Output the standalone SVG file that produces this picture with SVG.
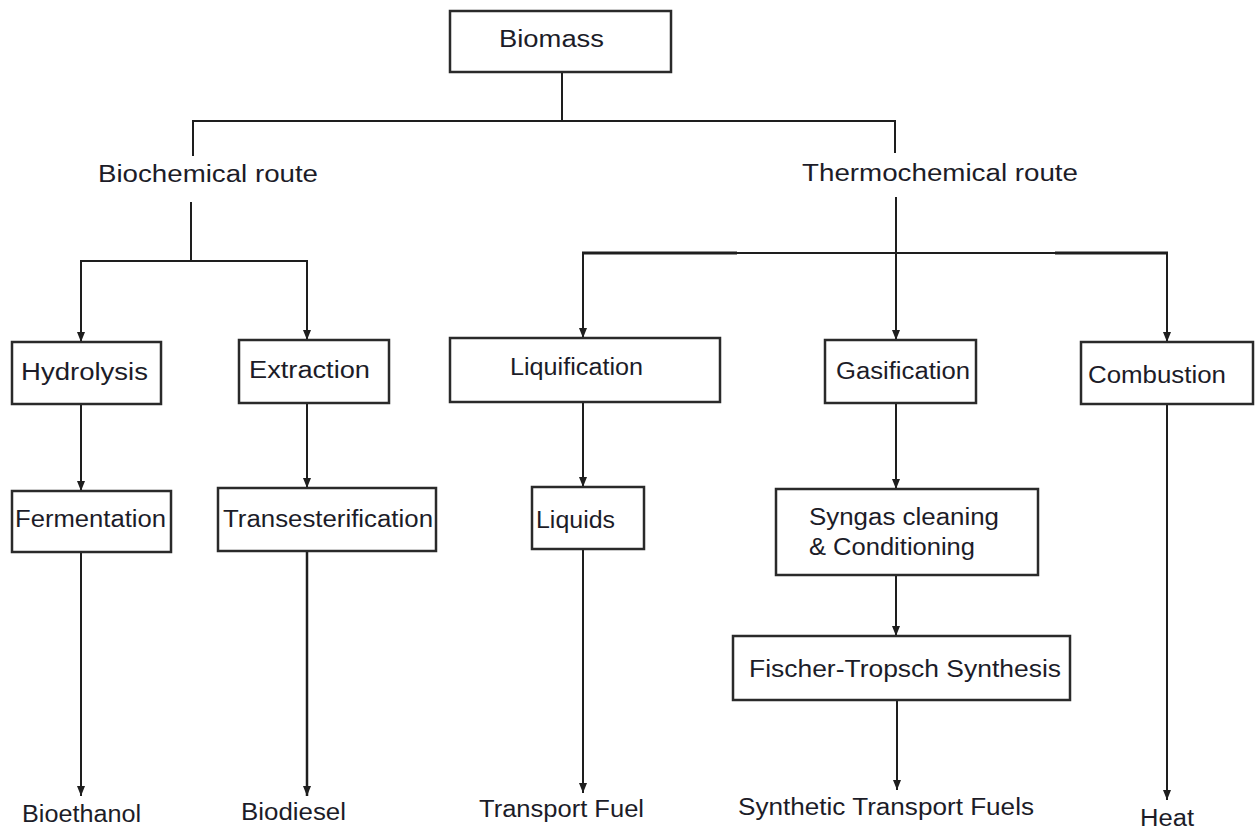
<svg xmlns="http://www.w3.org/2000/svg" width="1256" height="830" viewBox="0 0 1256 830">
  <style>
    .box { fill: #ffffff; stroke: #2a2a2a; stroke-width: 2.5; }
    .lbl { font-family: "Liberation Sans", Arial, sans-serif; font-size: 23px; fill: #1c1c28; }
    .ln { stroke: #1e1e1e; stroke-width: 2; fill: none; }
    .arr { stroke: #1e1e1e; stroke-width: 2; fill: none; marker-end: url(#tip); }
  </style>
  <defs>
    <marker id="tip" viewBox="0 0 10 8" refX="10" refY="4" markerWidth="10" markerHeight="8" markerUnits="userSpaceOnUse" orient="auto">
      <path d="M0,0 L10,4 L0,8 z" fill="#1e1e1e"/>
    </marker>
  </defs>
  <rect width="1256" height="830" fill="#ffffff"/>

  <g id="connectors">
    <!-- trunk from Biomass to the two routes -->
    <line class="ln" x1="562" y1="72" x2="562" y2="121"/>
    <line class="ln" x1="193" y1="121" x2="895" y2="121"/>
    <line class="ln" x1="193" y1="120" x2="193" y2="156"/>
    <line class="ln" x1="895" y1="120" x2="895" y2="153"/>

    <!-- biochemical branch -->
    <line class="ln" x1="191" y1="202" x2="191" y2="261"/>
    <line class="ln" x1="81" y1="261" x2="307" y2="261"/>
    <line class="arr" x1="81" y1="260" x2="81" y2="342"/>
    <line class="arr" x1="307" y1="260" x2="307" y2="340"/>
    <line class="arr" x1="81" y1="404" x2="81" y2="491"/>
    <line class="arr" x1="307" y1="403" x2="307" y2="488"/>
    <line class="arr" x1="81" y1="552" x2="81" y2="796"/>
    <line class="arr" x1="307" y1="551" x2="307" y2="796" style="stroke-width:2.5"/>

    <!-- thermochemical branch -->
    <line class="ln" x1="896" y1="197" x2="896" y2="253"/>
    <line class="ln" x1="582" y1="253" x2="1168" y2="253"/>
    <line class="ln" x1="582" y1="253" x2="737" y2="253" style="stroke-width:3"/>
    <line class="ln" x1="1055" y1="253" x2="1168" y2="253" style="stroke-width:3"/>
    <line class="arr" x1="583" y1="252" x2="583" y2="338"/>
    <line class="arr" x1="896" y1="252" x2="896" y2="340"/>
    <line class="arr" x1="1167" y1="252" x2="1167" y2="342"/>
    <line class="arr" x1="583" y1="402" x2="583" y2="487"/>
    <line class="arr" x1="896" y1="403" x2="896" y2="489"/>
    <line class="arr" x1="896" y1="575" x2="896" y2="636"/>
    <line class="arr" x1="583" y1="549" x2="583" y2="793"/>
    <line class="arr" x1="897" y1="700" x2="897" y2="790"/>
    <line class="arr" x1="1167" y1="404" x2="1167" y2="800"/>
  </g>

  <g id="biomass">
    <rect class="box" x="450" y="11" width="221" height="61"/>
    <text class="lbl" x="499" y="47" textLength="105" lengthAdjust="spacingAndGlyphs">Biomass</text>
  </g>
  <g id="biochemical-route">
    <text class="lbl" x="98" y="182" textLength="220" lengthAdjust="spacingAndGlyphs">Biochemical route</text>
  </g>
  <g id="thermochemical-route">
    <text class="lbl" x="802" y="181" textLength="276" lengthAdjust="spacingAndGlyphs">Thermochemical route</text>
  </g>

  <g id="hydrolysis">
    <rect class="box" x="12" y="342" width="149" height="62"/>
    <text class="lbl" x="21" y="380" textLength="127" lengthAdjust="spacingAndGlyphs">Hydrolysis</text>
  </g>
  <g id="extraction">
    <rect class="box" x="239" y="340" width="150" height="63"/>
    <text class="lbl" x="249" y="378" textLength="121" lengthAdjust="spacingAndGlyphs">Extraction</text>
  </g>
  <g id="fermentation">
    <rect class="box" x="12" y="491" width="159" height="61"/>
    <text class="lbl" x="15" y="527" textLength="151" lengthAdjust="spacingAndGlyphs">Fermentation</text>
  </g>
  <g id="transesterification">
    <rect class="box" x="218" y="488" width="218" height="63"/>
    <text class="lbl" x="223" y="527" textLength="210" lengthAdjust="spacingAndGlyphs">Transesterification</text>
  </g>

  <g id="liquification">
    <rect class="box" x="450" y="338" width="270" height="64"/>
    <text class="lbl" x="510" y="375" textLength="133" lengthAdjust="spacingAndGlyphs">Liquification</text>
  </g>
  <g id="liquids">
    <rect class="box" x="532" y="487" width="112" height="62"/>
    <text class="lbl" x="536" y="528" textLength="79" lengthAdjust="spacingAndGlyphs">Liquids</text>
  </g>
  <g id="gasification">
    <rect class="box" x="825" y="340" width="151" height="63"/>
    <text class="lbl" x="836" y="379" textLength="134" lengthAdjust="spacingAndGlyphs">Gasification</text>
  </g>
  <g id="syngas-cleaning">
    <rect class="box" x="776" y="489" width="262" height="86"/>
    <text class="lbl" x="809" y="525" textLength="190" lengthAdjust="spacingAndGlyphs">Syngas cleaning</text>
    <text class="lbl" x="809" y="555" textLength="166" lengthAdjust="spacingAndGlyphs">&amp; Conditioning</text>
  </g>
  <g id="fischer-tropsch">
    <rect class="box" x="733" y="636" width="337" height="64"/>
    <text class="lbl" x="749" y="677" textLength="312" lengthAdjust="spacingAndGlyphs">Fischer-Tropsch Synthesis</text>
  </g>
  <g id="combustion">
    <rect class="box" x="1081" y="342" width="172" height="62"/>
    <text class="lbl" x="1088" y="383" textLength="138" lengthAdjust="spacingAndGlyphs">Combustion</text>
  </g>

  <g id="bioethanol">
    <text class="lbl" x="22" y="822" textLength="119" lengthAdjust="spacingAndGlyphs">Bioethanol</text>
  </g>
  <g id="biodiesel">
    <text class="lbl" x="241" y="820" textLength="105" lengthAdjust="spacingAndGlyphs">Biodiesel</text>
  </g>
  <g id="transport-fuel">
    <text class="lbl" x="479" y="817" textLength="165" lengthAdjust="spacingAndGlyphs">Transport Fuel</text>
  </g>
  <g id="synthetic-transport-fuels">
    <text class="lbl" x="738" y="815" textLength="296" lengthAdjust="spacingAndGlyphs">Synthetic Transport Fuels</text>
  </g>
  <g id="heat">
    <text class="lbl" x="1140" y="826" textLength="54" lengthAdjust="spacingAndGlyphs">Heat</text>
  </g>
</svg>
